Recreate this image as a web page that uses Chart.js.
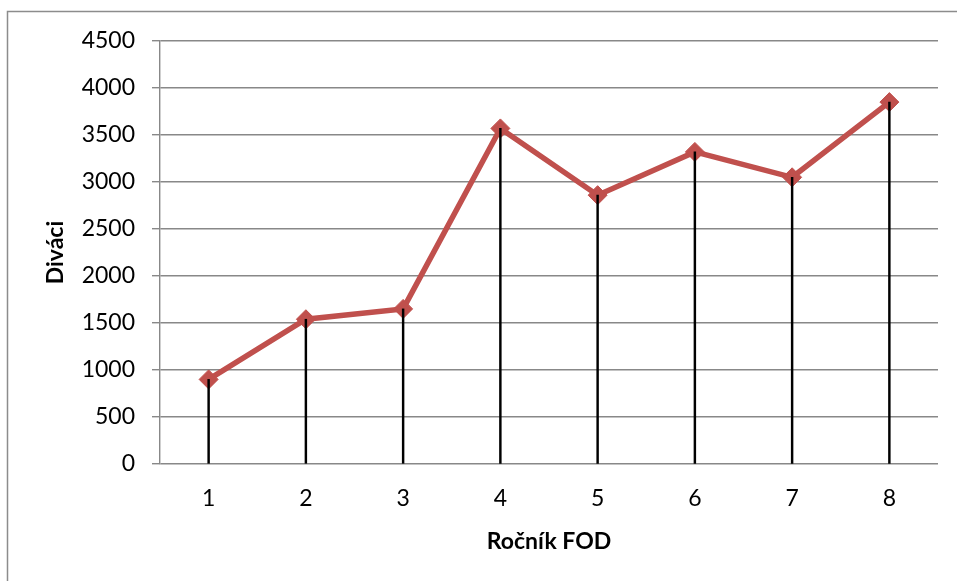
<!DOCTYPE html>
<html>
<head>
<meta charset="utf-8">
<script src="https://cdn.jsdelivr.net/npm/chart.js@4/dist/chart.umd.min.js"></script>
<style>
  html, body { margin: 0; padding: 0; background: #ffffff; }
  #wrap { position: relative; width: 957px; height: 581px; }
</style>
</head>
<body>
<div id="wrap"><canvas id="c" width="957" height="581"></canvas></div>
<script>
// Ročník festivalu a počet diváků
const rocniky = ['1', '2', '3', '4', '5', '6', '7', '8'];
const divaci = [900, 1540, 1650, 3570, 2860, 3320, 3050, 3850];
const osaY = { min: 0, max: 4500, step: 500 };

const FONT = 'Lato, "Open Sans", "Liberation Sans", sans-serif';

// frame around the chart (only the top and left edges fall inside the page)
const framePlugin = {
  id: 'frame',
  beforeDraw(chart) {
    const ctx = chart.ctx;
    ctx.save();
    ctx.strokeStyle = '#8c8c8c';
    ctx.lineWidth = 1.5;
    ctx.beginPath();
    ctx.moveTo(7.5, 590);
    ctx.lineTo(7.5, 11.5);
    ctx.lineTo(960, 11.5);
    ctx.stroke();
    ctx.restore();
  }
};

new Chart(document.getElementById('c'), {
  data: {
    labels: rocniky,
    datasets: [
      {
        // vertical drop lines from each point down to the axis
        type: 'bar',
        data: divaci,
        backgroundColor: '#000000',
        borderWidth: 0,
        barThickness: 1.8,
        order: 0
      },
      {
        type: 'line',
        label: 'Diváci',
        data: divaci,
        borderColor: '#C0504D',
        backgroundColor: '#C0504D',
        borderWidth: 5.5,
        pointStyle: 'rectRot',
        pointRadius: 9.5,
        pointBorderWidth: 1,
        pointBorderColor: '#C0504D',
        pointBackgroundColor: '#C0504D',
        tension: 0,
        order: 1
      }
    ]
  },
  options: {
    responsive: false,
    animation: false,
    events: [],
    layout: { padding: { top: 41, right: 19, bottom: 22, left: 40 } },
    plugins: {
      legend: { display: false },
      tooltip: { enabled: false }
    },
    scales: {
      x: {
        offset: true,
        afterFit(scale) { scale.height = 95; },
        grid: { display: false, drawTicks: false },
        border: { display: false },
        ticks: {
          color: '#000000',
          padding: 21,
          font: { family: FONT, size: 23 }
        },
        title: {
          display: true,
          text: 'Ročník FOD',
          color: '#000000',
          padding: { top: 14, bottom: 4 },
          font: { family: FONT, size: 23, weight: 'bold' }
        }
      },
      y: {
        min: osaY.min,
        max: osaY.max,
        afterFit(scale) { scale.width = 120; },
        grid: {
          color: '#888888',
          lineWidth: 1.4,
          drawTicks: true,
          tickLength: 8
        },
        border: { display: true, color: '#888888', width: 1.4 },
        ticks: {
          stepSize: osaY.step,
          color: '#000000',
          padding: 17,
          font: { family: FONT, size: 23 },
          callback: (v) => String(v)
        },
        title: {
          display: true,
          text: 'Diváci',
          color: '#000000',
          padding: { top: 2, bottom: 0 },
          font: { family: FONT, size: 23, weight: 'bold' }
        }
      }
    }
  },
  plugins: [framePlugin]
});
</script>
</body>
</html>
